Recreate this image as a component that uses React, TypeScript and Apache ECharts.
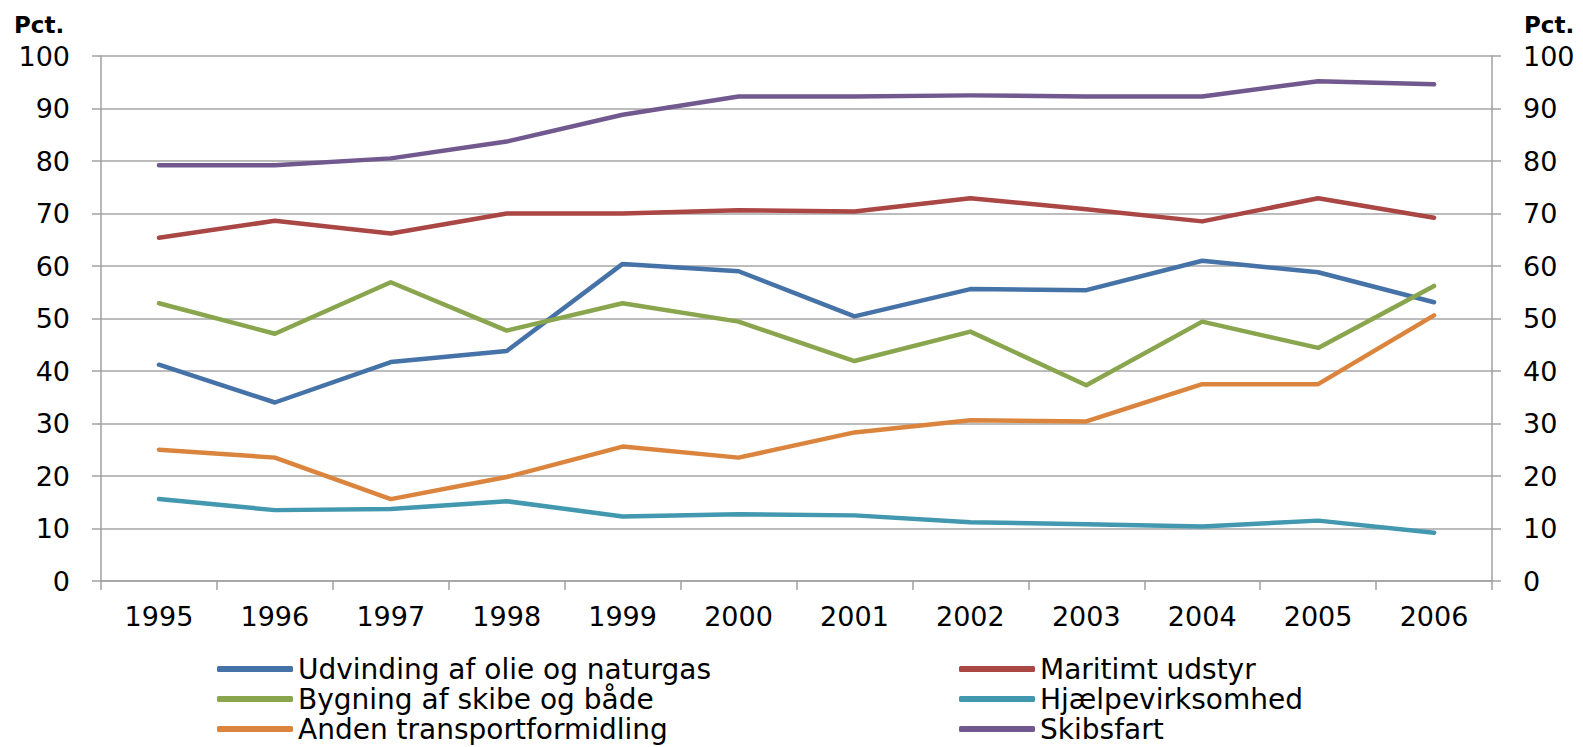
import React, { useEffect, useRef } from "react";
import * as echarts from "echarts";

const years = ["1995", "1996", "1997", "1998", "1999", "2000", "2001", "2002", "2003", "2004", "2005", "2006"];

const udvinding = [41.2, 34.0, 41.7, 43.8, 60.4, 59.0, 50.4, 55.6, 55.4, 61.0, 58.8, 53.1];
const maritimt = [65.4, 68.6, 66.2, 70.0, 70.0, 70.6, 70.4, 72.9, 70.8, 68.5, 72.9, 69.2];
const bygning = [52.9, 47.1, 56.9, 47.7, 52.9, 49.4, 41.9, 47.5, 37.3, 49.4, 44.4, 56.2];
const hjaelpe = [15.6, 13.5, 13.7, 15.2, 12.3, 12.7, 12.5, 11.2, 10.8, 10.4, 11.5, 9.2];
const anden = [25.0, 23.5, 15.6, 19.8, 25.6, 23.5, 28.3, 30.6, 30.4, 37.5, 37.5, 50.6];
const skibsfart = [79.2, 79.2, 80.5, 83.7, 88.8, 92.3, 92.3, 92.5, 92.3, 92.3, 95.2, 94.6];

const seriesDefs = [
  { name: "Udvinding af olie og naturgas", data: udvinding, color: "#4572A7" },
  { name: "Maritimt udstyr", data: maritimt, color: "#AA4643" },
  { name: "Bygning af skibe og både", data: bygning, color: "#89A54E" },
  { name: "Hjælpevirksomhed", data: hjaelpe, color: "#4198AF" },
  { name: "Anden transportformidling", data: anden, color: "#DB843D" },
  { name: "Skibsfart", data: skibsfart, color: "#71588F" },
];

const legendLeft = ["Udvinding af olie og naturgas", "Bygning af skibe og både", "Anden transportformidling"];
const legendRight = ["Maritimt udstyr", "Hjælpevirksomhed", "Skibsfart"];

const FONT = "DejaVu Sans";
const AXIS_COLOR = "#a0a0a0";

export default function App() {
  const ref = useRef<HTMLDivElement>(null);
  useEffect(() => {
    if (!ref.current) return;
    const chart = echarts.init(ref.current, null, { renderer: "svg" });
    const legendCommon = {
      orient: "vertical",
      top: 655,
      height: 130,
      padding: 0,
      itemWidth: 76,
      itemHeight: 6,
      itemGap: 2,
      icon: "roundRect",
      textStyle: { fontFamily: FONT, fontSize: 28, color: "#000", lineHeight: 28 },
    };
    const yAxisCommon = {
      type: "value",
      min: 0,
      max: 100,
      interval: 10,
      axisLine: { show: true, lineStyle: { color: AXIS_COLOR, width: 1.5 } },
      axisTick: { show: true, length: 9, lineStyle: { color: AXIS_COLOR, width: 1.5 } },
      axisLabel: { fontFamily: FONT, fontSize: 27, color: "#000", margin: 31 },
    };
    chart.setOption({
      animation: false,
      backgroundColor: "#fff",
      grid: { left: 101, right: 91, top: 56, bottom: 166, containLabel: false },
      legend: [
        { ...legendCommon, left: 217, data: legendLeft },
        { ...legendCommon, left: 959, data: legendRight },
      ],
      xAxis: {
        type: "category",
        data: years,
        boundaryGap: true,
        axisLine: { show: true, lineStyle: { color: AXIS_COLOR, width: 1.5 } },
        axisTick: { show: true, interval: 0, length: 9, alignWithLabel: false, lineStyle: { color: AXIS_COLOR, width: 1.5 } },
        axisLabel: { fontFamily: FONT, fontSize: 27, color: "#000", margin: 22, interval: 0 },
        splitLine: { show: false },
      },
      yAxis: [
        {
          ...yAxisCommon,
          position: "left",
          splitLine: { show: true, lineStyle: { color: "#a6a6a6", width: 1.5 } },
        },
        {
          ...yAxisCommon,
          position: "right",
          splitLine: { show: false },
        },
      ],
      graphic: [
        {
          type: "text",
          left: 14,
          top: 13,
          style: { text: "Pct.", fontFamily: FONT, fontSize: 23, fontWeight: "bold", fill: "#000" },
        },
        {
          type: "text",
          left: 1524,
          top: 13,
          style: { text: "Pct.", fontFamily: FONT, fontSize: 23, fontWeight: "bold", fill: "#000" },
        },
      ],
      series: seriesDefs.map((s) => ({
        type: "line",
        name: s.name,
        data: s.data,
        yAxisIndex: 0,
        showSymbol: false,
        symbol: "none",
        color: s.color,
        lineStyle: { color: s.color, width: 4.5, cap: "round", join: "round" },
      })),
    });
    return () => chart.dispose();
  }, []);
  return (
    <div
      ref={ref}
      style={{ position: "fixed", left: 0, top: 0, width: 1583, height: 747, background: "#fff" }}
    />
  );
}
